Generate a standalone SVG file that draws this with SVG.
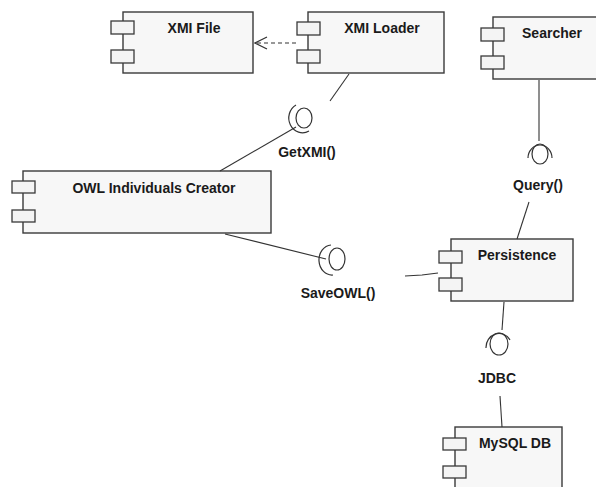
<svg xmlns="http://www.w3.org/2000/svg" width="596" height="487" viewBox="0 0 596 487">
<style>
.box{fill:#f7f7f7;stroke:#3a3a3a;stroke-width:1.4}
.port{fill:#f4f4f4;stroke:#3a3a3a;stroke-width:1.3}
.lbl{font-family:"Liberation Sans",Arial,sans-serif;font-weight:bold;font-size:14px;fill:#1a1a1a;text-anchor:middle}
.ln{stroke:#333;stroke-width:1.1;fill:none}
.ball{fill:#fff;stroke:#333;stroke-width:1.2}
.sock{fill:none;stroke:#333;stroke-width:1.2}
</style>
<defs>
<marker id="open" viewBox="0 0 14 14" refX="13" refY="7" markerWidth="14" markerHeight="14" markerUnits="userSpaceOnUse" orient="auto">
<path d="M1,1 L13,7 L1,13" fill="none" stroke="#333" stroke-width="1.2"/>
</marker>
</defs>
<rect width="596" height="487" fill="#fff"/>
<g id="xmifile">
<rect class="box" x="123" y="12" width="130" height="61"/>
<rect class="port" x="111" y="21" width="23" height="13"/>
<rect class="port" x="111" y="50" width="23" height="13"/>
<text class="lbl" x="194" y="33">XMI File</text>
</g>
<g id="xmiloader">
<rect class="box" x="308" y="12" width="136" height="61"/>
<rect class="port" x="297" y="22" width="23" height="13"/>
<rect class="port" x="297" y="50" width="23" height="13"/>
<text class="lbl" x="382" y="33">XMI Loader</text>
</g>
<g id="searcher">
<rect class="box" x="493" y="17" width="104" height="62"/>
<rect class="port" x="481" y="28" width="23" height="13"/>
<rect class="port" x="481" y="56" width="23" height="13"/>
<text class="lbl" x="552" y="38">Searcher</text>
</g>
<g id="owlcreator">
<rect class="box" x="23" y="171" width="248" height="62"/>
<rect class="port" x="12" y="181" width="23" height="12"/>
<rect class="port" x="12" y="210" width="23" height="12"/>
<text class="lbl" x="154" y="193">OWL Individuals Creator</text>
</g>
<g id="persistence">
<rect class="box" x="451" y="239" width="122" height="62"/>
<rect class="port" x="439" y="251" width="23" height="12"/>
<rect class="port" x="439" y="278" width="23" height="13"/>
<text class="lbl" x="517" y="260">Persistence</text>
</g>
<g id="mysqldb">
<rect class="box" x="455" y="427" width="107" height="64"/>
<rect class="port" x="443" y="438" width="23" height="12"/>
<rect class="port" x="443" y="466" width="23" height="12"/>
<text class="lbl" x="515" y="448">MySQL DB</text>
</g>
<g id="connectors">
<line class="ln" x1="296" y1="43" x2="255" y2="43" stroke-dasharray="4,3" marker-end="url(#open)"/>
<line class="ln" x1="349" y1="74" x2="330" y2="101"/>
<line class="ln" x1="296" y1="127" x2="220" y2="171"/>
<line class="ln" x1="225" y1="234" x2="326" y2="259"/>
<polyline class="ln" points="405,276 422,275 438,273"/>
<line class="ln" x1="539" y1="80" x2="539" y2="141"/>
<line class="ln" x1="529" y1="202" x2="517" y2="239"/>
<line class="ln" x1="504" y1="302" x2="502" y2="330"/>
<line class="ln" x1="500" y1="396" x2="502" y2="427"/>
</g>
<g id="getxmi">
<ellipse class="ball" cx="304" cy="118" rx="8" ry="10"/>
<path class="sock" d="M296,105 A13,14 0 0,0 309,131"/>
<text class="lbl" x="307" y="157">GetXMI()</text>
</g>
<g id="saveowl">
<ellipse class="ball" cx="337" cy="259" rx="8" ry="11"/>
<path class="sock" d="M331,245 A13,15 0 0,0 333,275"/>
<text class="lbl" x="338" y="298">SaveOWL()</text>
</g>
<g id="query">
<ellipse class="ball" cx="540" cy="154" rx="8" ry="10"/>
<path class="sock" d="M528,158 A12,13 0 0,1 552,158"/>
<text class="lbl" x="538" y="190">Query()</text>
</g>
<g id="jdbc">
<ellipse class="ball" cx="499" cy="344" rx="9" ry="11"/>
<path class="sock" d="M486,348 A13,14 0 0,1 510,340"/>
<text class="lbl" x="497" y="383">JDBC</text>
</g>
</svg>
